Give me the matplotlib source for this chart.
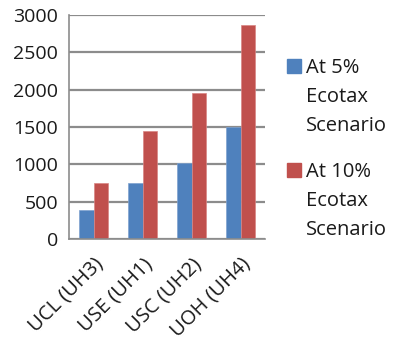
import matplotlib.pyplot as plt
import numpy as np
from matplotlib.patches import Rectangle
from matplotlib.transforms import ScaledTranslation

# ================= DATA =================
categories = ['UCL (UH3)', 'USE (UH1)', 'USC (UH2)', 'UOH (UH4)']
values_5pct = [390, 750, 1020, 1500]
values_10pct = [750, 1440, 1950, 2860]
series_labels = ['At 5%\nEcotax\nScenario', 'At 10%\nEcotax\nScenario']
y_ticks = [0, 500, 1000, 1500, 2000, 2500, 3000]

# ================= STYLE =================
blue = '#4F81BD'
red = '#C0504D'
grid_color = '#8C8C8C'
text_color = '#1a1a1a'
plt.rcParams['font.family'] = ['Open Sans', 'DejaVu Sans']

W, H = 396, 340
fig = plt.figure(figsize=(W / 100, H / 100), dpi=100)
# axes box in pixels: left 69, right 265, top 15, bottom 239
ax = fig.add_axes([69 / W, 1 - 239 / H, (265 - 69) / W, (239 - 15) / H])

x = np.arange(len(categories))
bw = 0.286
ax.bar(x - bw / 2, values_5pct, width=bw, color=blue, edgecolor='#7FA2CF', linewidth=0.5)
ax.bar(x + bw / 2, values_10pct, width=bw, color=red, edgecolor='#D98583', linewidth=0.5)

ax.set_xlim(-0.5, len(categories) - 0.5)
ax.set_ylim(0, 3000)
ax.set_yticks(y_ticks)
ax.set_yticklabels([str(t) for t in y_ticks], fontsize=14, color=text_color)
ax.yaxis.grid(True, color=grid_color, linewidth=1.6)
ax.set_axisbelow(True)

ax.set_xticks(x)
ax.set_xticklabels(categories, rotation=45, ha='right', va='center',
                   rotation_mode='anchor', fontsize=14.5, color=text_color)
ax.tick_params(axis='both', length=0)
ax.tick_params(axis='y', pad=8)
ax.tick_params(axis='x', pad=16)
shift = ScaledTranslation(7 / 100, 0, fig.dpi_scale_trans)
for lbl in ax.get_xticklabels():
    lbl.set_transform(lbl.get_transform() + shift)

for side in ['top', 'right']:
    ax.spines[side].set_visible(False)
for side in ['left', 'bottom']:
    ax.spines[side].set_color(grid_color)
    ax.spines[side].set_linewidth(1.2)

# legend drawn as squares plus multi-line labels
legend_tops = [57, 161]
for color, label, top in zip([blue, red], series_labels, legend_tops):
    fig.patches.append(Rectangle((287 / W, 1 - (top + 16) / H), 14 / W, 14 / H,
                                 transform=fig.transFigure, color=color))
    fig.text(306 / W, 1 - (top + 1) / H, label, fontsize=14.5, color=text_color,
             ha='left', va='top', linespacing=1.6)

fig.savefig('out.png', dpi=100)
